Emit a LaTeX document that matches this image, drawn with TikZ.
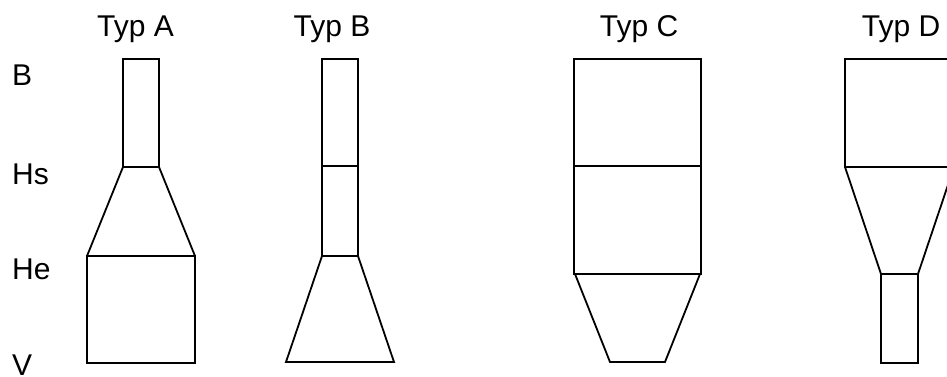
\documentclass[tikz,border=0pt]{standalone}
\usepackage{fontspec}
\setmainfont{Liberation Sans}
\begin{document}
\begin{tikzpicture}[x=1pt,y=-1pt,
  part/.style={draw=black,line width=1.8pt,line join=miter},
  lbl/.style={inner sep=0pt,font=\fontsize{30}{36}\selectfont}]
\useasboundingbox (0,0) rectangle (947,377);
\clip (0,0) rectangle (947,377);
% titles
\node[lbl,anchor=base] (ta) at (135.5,37) {Typ A};
\node[lbl,anchor=base] (tb) at (332,37) {Typ B};
\node[lbl,anchor=base] (tc) at (639,37) {Typ C};
\node[lbl,anchor=base] (td) at (901,37) {Typ D};
% level labels
\node[lbl,anchor=base west] (lb) at (12,86) {B};
\node[lbl,anchor=base west] (lhs) at (12,184) {Hs};
\node[lbl,anchor=base west] (lhe) at (12,279) {He};
\node[lbl,anchor=base west] (lv) at (12,375) {V};
% Typ A
\draw[part] (123,59) rectangle (159,167);
\draw[part] (123,167) -- (87,256) (159,167) -- (195,256);
\draw[part] (87,256) rectangle (195,363);
% Typ B
\draw[part] (322,59) rectangle (358,256);
\draw[part] (322,166) -- (358,166);
\draw[part] (322,256) -- (286,362) -- (394,362) -- (358,256);
% Typ C
\draw[part] (574,59) rectangle (701,274);
\draw[part] (574,166) -- (701,166);
\draw[part] (575,274) -- (610,362) -- (665,362) -- (700,274);
% Typ D
\draw[part] (845,59) rectangle (954,167);
\draw[part] (845,167) -- (881,274) (954,167) -- (918,274);
\draw[part] (881,274) rectangle (918,363);
\end{tikzpicture}
\end{document}
